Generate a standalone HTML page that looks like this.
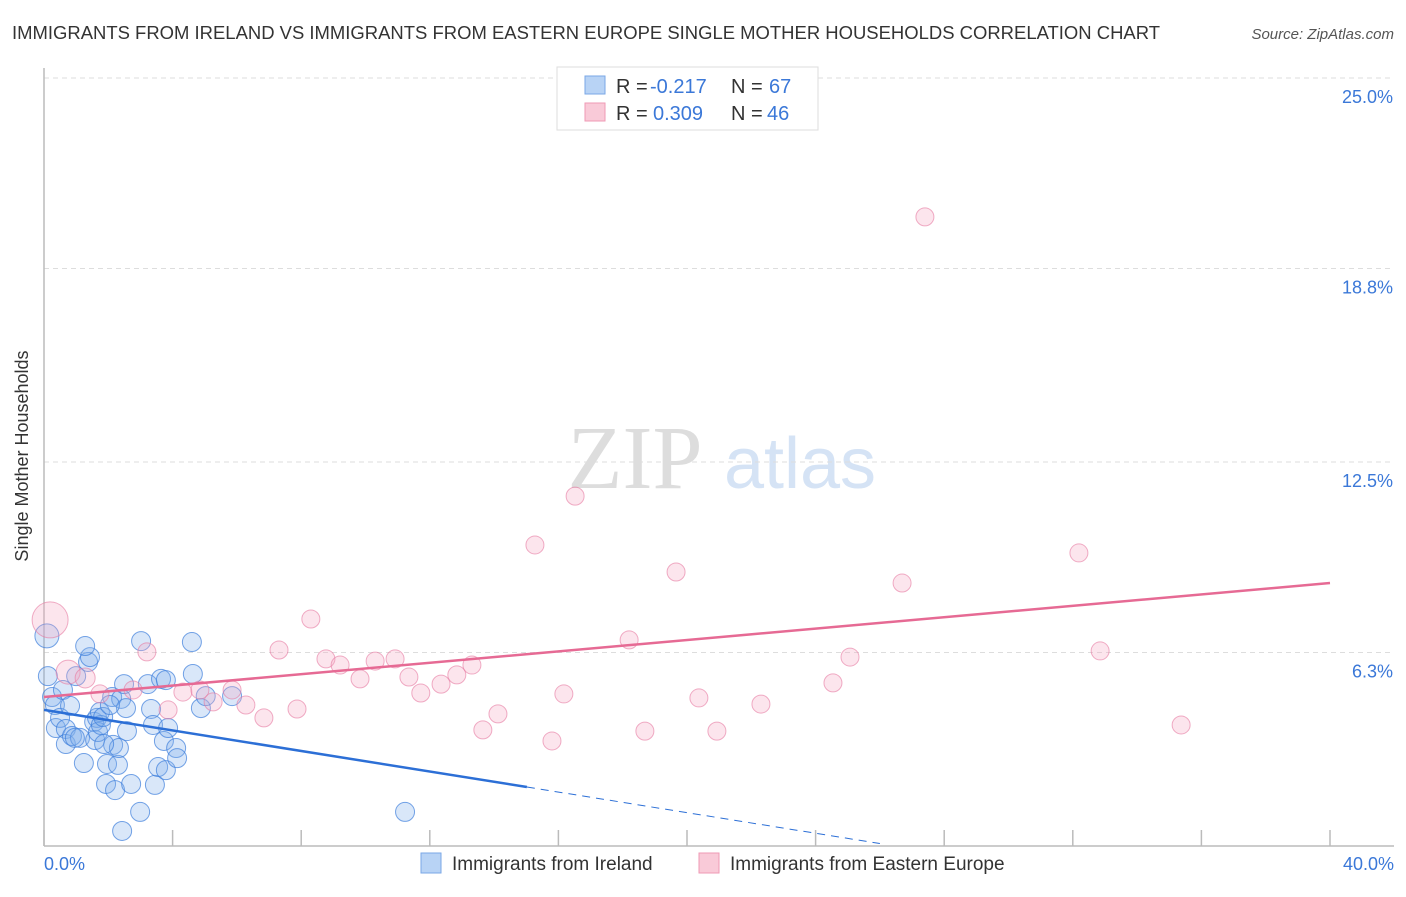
<!DOCTYPE html>
<html><head><meta charset="utf-8"><style>
body{margin:0;background:#fff;font-family:"Liberation Sans",sans-serif;}
</style></head><body>
<svg width="1406" height="892" xmlns="http://www.w3.org/2000/svg" font-family="Liberation Sans, sans-serif">
<text x="12" y="39" font-size="18" fill="#333" textLength="1148" lengthAdjust="spacingAndGlyphs">IMMIGRANTS FROM IRELAND VS IMMIGRANTS FROM EASTERN EUROPE SINGLE MOTHER HOUSEHOLDS CORRELATION CHART</text>
<text x="1394" y="39" font-size="15" fill="#555" font-style="italic" text-anchor="end">Source: ZipAtlas.com</text>
<g><text x="635" y="488" font-size="90" fill="#ddd" font-family="Liberation Serif, serif" text-anchor="middle">ZIP</text><text x="800" y="488" font-size="72" fill="#d5e3f5" text-anchor="middle">atlas</text></g>
<g id="grid"></g>
<g id="axes"></g>
<g id="marks"></g>
<text x="28" y="456" font-size="18" fill="#333" text-anchor="middle" transform="rotate(-90 28 456)">Single Mother Households</text>
<text x="44" y="870" font-size="18" fill="#3b78d8">0.0%</text>
<text x="1394" y="870" font-size="18" fill="#3b78d8" text-anchor="end">40.0%</text>
<g>
<rect x="557" y="67" width="261" height="63" fill="#fff" stroke="#ddd"/>
<rect x="585" y="76" width="20" height="18" fill="#b8d3f5" stroke="#7aa7e6"/>
<rect x="585" y="103" width="20" height="18" fill="#f9cad8" stroke="#ef9ab5"/>
<text x="616" y="93" font-size="20" fill="#333">R =</text><text x="650" y="93" font-size="20" fill="#3b78d8">-0.217</text>
<text x="731" y="93" font-size="20" fill="#333">N =</text><text x="769" y="93" font-size="20" fill="#3b78d8">67</text>
<text x="616" y="120" font-size="20" fill="#333">R =</text><text x="653" y="120" font-size="20" fill="#3b78d8">0.309</text>
<text x="731" y="120" font-size="20" fill="#333">N =</text><text x="767" y="120" font-size="20" fill="#3b78d8">46</text>
</g>
<g>
<rect x="421" y="853" width="20" height="20" fill="#b8d3f5" stroke="#7aa7e6"/>
<text x="452" y="870" font-size="19" fill="#333">Immigrants from Ireland</text>
<rect x="699" y="853" width="20" height="20" fill="#f9cad8" stroke="#ef9ab5"/>
<text x="730" y="870" font-size="19" fill="#333">Immigrants from Eastern Europe</text>
</g>
</svg>
<script>
const yTicks=[25.0,18.8,12.5,6.3];
const yTickLabels=["25.0%","18.8%","12.5%","6.3%"];
const xTicks=[0,4,8,12,16,20,24,28,32,36,40];
const irelandX=[0.09,0.12,0.25,0.34,0.37,0.50,0.59,0.68,0.81,0.68,0.87,1.00,1.12,1.24,1.37,1.43,1.28,1.56,1.65,1.59,1.68,1.74,1.77,1.84,1.96,1.93,2.15,2.12,2.21,2.30,2.33,2.40,2.49,2.55,2.58,2.43,2.99,2.71,3.02,3.23,3.33,3.39,3.45,3.55,3.64,3.73,3.79,3.79,3.86,4.11,4.14,4.60,4.63,4.88,5.03,5.85,11.23,2.05,1.87,0.96];
const irelandY=[6.84,5.53,4.85,4.59,3.84,4.17,5.08,3.81,4.56,3.32,3.58,5.53,3.52,2.70,5.99,6.15,6.51,4.04,4.17,3.45,3.71,4.36,3.94,4.20,2.67,2.02,3.29,4.85,1.82,2.64,3.19,4.79,5.27,4.49,3.74,0.49,1.11,2.02,6.67,5.27,4.46,3.94,1.99,2.57,5.44,3.42,5.40,2.47,3.84,3.19,2.86,6.64,5.60,4.49,4.88,4.88,1.11,4.59,3.32,3.52];
const eeX=[0.19,0.75,1.28,1.74,2.77,3.20,3.86,4.32,4.85,5.26,5.85,6.28,6.84,7.31,7.87,8.30,8.77,9.21,9.83,10.30,10.92,11.35,11.72,12.35,12.84,13.31,13.65,14.12,15.27,15.80,16.17,16.52,18.20,18.69,19.66,20.37,20.93,22.30,24.54,25.07,26.69,27.40,32.19,32.85,35.37];
const eeY=[7.36,5.66,5.47,4.95,5.08,6.32,4.43,5.01,5.08,4.69,5.08,4.59,4.17,6.38,4.46,7.39,6.09,5.89,5.44,6.02,6.09,5.50,4.98,5.27,5.57,5.89,3.78,4.30,9.80,3.42,4.95,11.39,6.71,3.74,8.92,4.82,3.74,4.62,5.31,6.15,8.56,20.48,9.54,6.35,3.94];
const eeSizes=[18,12,10];
const irelandTrend=[[0,4.43],[15.02,1.92]];
const irelandTrendDash=[[15.02,1.92],[26.0,0.08]];
const eeTrend=[[0,4.85],[40,8.56]];
const NS="http://www.w3.org/2000/svg";
const X=v=>44+v*32.15, Y=v=>846-v*30.72;
function mk(t,a,p){const e=document.createElementNS(NS,t);for(const k in a)e.setAttribute(k,a[k]);p.appendChild(e);return e;}
const grid=document.getElementById('grid'),axes=document.getElementById('axes'),marks=document.getElementById('marks');
yTicks.forEach((t,i)=>{
 const l=mk('line',{x1:44,x2:1394,y1:Y(t),y2:Y(t),stroke:'#ddd','stroke-dasharray':'5,4'},grid);
 
 
 const tx=mk('text',{x:1393,y:Y(t)+25,'font-size':18,fill:'#3b78d8','text-anchor':'end'},grid);
 tx.textContent=yTickLabels[i];
 
 
});
const ax=mk('line',{x1:44,x2:44,y1:68,y2:846,stroke:'#bbb','stroke-width':1.5},axes);


const bx=mk('line',{x1:44,x2:1394,y1:846,y2:846,stroke:'#bbb','stroke-width':1.5},axes);


xTicks.forEach(t=>{const l=mk('line',{x1:X(t),x2:X(t),y1:830,y2:846,stroke:'#bbb','stroke-width':1.5},axes);
 
 });
irelandX.forEach((x,i)=>{const c=mk('circle',{cx:X(x),cy:Y(irelandY[i]),r:i===0?12:9.5,fill:'rgba(130,175,235,0.3)',stroke:'rgba(60,125,220,0.7)','stroke-width':1},marks);
 
 });
eeX.forEach((x,i)=>{const c=mk('circle',{cx:X(x),cy:Y(eeY[i]),r:eeSizes[i]||9,fill:'rgba(245,170,195,0.3)',stroke:'rgba(230,120,160,0.6)','stroke-width':1},marks);
 
 });
function tl(p,col,dash,name){const l=mk('line',{x1:X(p[0][0]),y1:Y(p[0][1]),x2:X(p[1][0]),y2:Y(p[1][1]),stroke:col,'stroke-width':dash?1:2.5},marks);
 if(dash)l.setAttribute('stroke-dasharray','8,6');
 
 }
tl(irelandTrend,'#2c6fd6',false,'ireland-trend-line');
tl(irelandTrendDash,'#2c6fd6',true,'ireland-trend-extension');
tl(eeTrend,'#e66a94',false,'eastern-europe-trend-line');
</script>
</body></html>
